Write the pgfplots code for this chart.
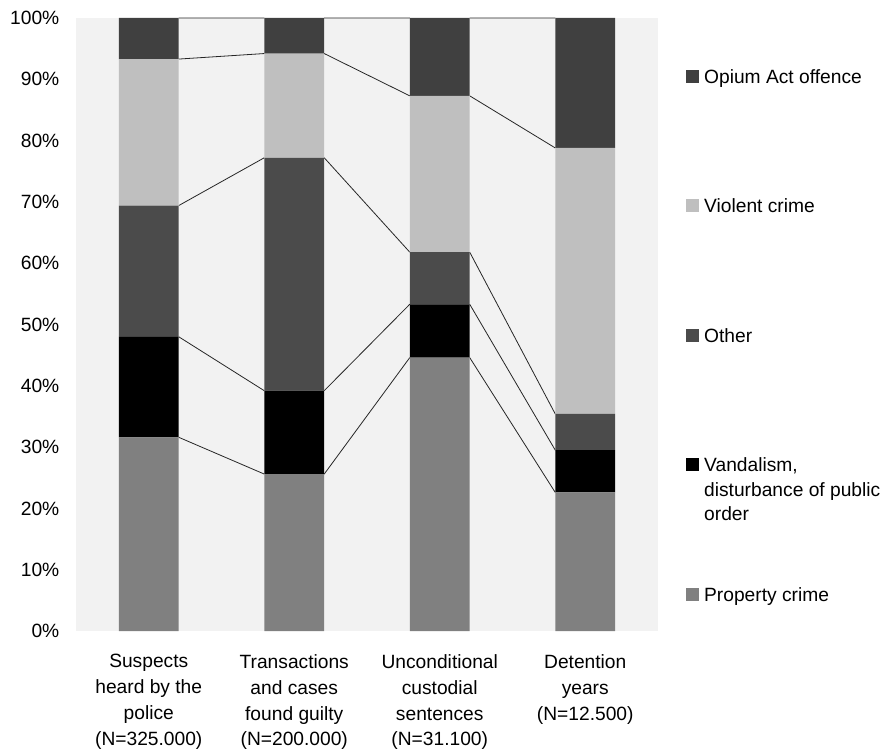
\documentclass[border=0pt]{standalone}
\usepackage{fontspec}
\setmainfont{Liberation Sans}
\usepackage{pgfplots}
\pgfplotsset{compat=1.18}

\definecolor{plotbg}{HTML}{F2F2F2}
\definecolor{cProperty}{HTML}{808080}
\definecolor{cVandal}{HTML}{000000}
\definecolor{cOther}{HTML}{4B4B4B}
\definecolor{cViolent}{HTML}{BFBFBF}
\definecolor{cOpium}{HTML}{404040}

\begin{document}
\begin{tikzpicture}
\useasboundingbox (-76pt,-119pt) rectangle (810pt,631pt);
\begin{axis}[
  at={(0pt,0pt)}, anchor=south west,
  scale only axis, width=582pt, height=613pt,
  xmin=-0.5, xmax=3.5, ymin=0, ymax=100,
  enlargelimits=false, clip=false,
  ybar stacked, bar width=0.412,
  axis background/.style={fill=plotbg},
  axis line style={draw=none},
  major tick length=0pt,
  font=\fontsize{19.2}{25.9}\selectfont,
  /pgf/number format/assume math mode=true,
  ytick={0,10,...,100},
  yticklabel={\pgfmathprintnumber{\tick}\%},
  y tick label style={xshift=-13.2pt},
  xtick={0,1,2,3},
  xticklabels={
    {Suspects\\heard by the\\police\\(N=325.000)},
    {Transactions\\and cases\\found guilty\\(N=200.000)},
    {Unconditional\\custodial\\sentences\\(N=31.100)},
    {Detention\\years\\(N=12.500)}},
  x tick label style={align=center, yshift=-19.8pt},
  legend image code/.code={\fill[#1] (0pt,-6.5pt) rectangle (13pt,6.5pt);},
  reverse legend,
  legend cell align=left,
  legend style={draw=none, fill=none, inner sep=0pt,
    nodes={inner sep=0pt}, column sep=5pt, row sep=112.6pt,
    at={(rel axis cs:1.0481,0.9187)}, anchor=north west},
]
\addplot[fill=cProperty, draw=none] coordinates {(0,31.6) (1,25.6) (2,44.6) (3,22.6)};
\addlegendentry{\raisebox{0pt}[15.4pt][5pt]{Property crime}}
\addplot[fill=cVandal, draw=none] coordinates {(0,16.4) (1,13.6) (2,8.7) (3,6.9)};
\addlegendentry{\raisebox{0pt}[15.4pt][5pt]{\begin{tabular}[t]{@{}l@{}}Vandalism,\\[-1.4pt]disturbance of public\\[-1.4pt]order\end{tabular}}}
\addplot[fill=cOther, draw=none] coordinates {(0,21.4) (1,38.0) (2,8.5) (3,5.9)};
\addlegendentry{\raisebox{0pt}[15.4pt][5pt]{Other}}
\addplot[fill=cViolent, draw=none] coordinates {(0,23.9) (1,17.0) (2,25.5) (3,43.4)};
\addlegendentry{\raisebox{0pt}[15.4pt][5pt]{Violent crime}}
\addplot[fill=cOpium, draw=none] coordinates {(0,6.7) (1,5.8) (2,12.7) (3,21.2)};
\addlegendentry{\raisebox{0pt}[15.4pt][5pt]{Opium Act offence}}

% series lines joining the category boundaries of neighbouring bars
\addplot[sharp plot, stack plots=false, forget plot, mark=none,
  draw=black!85, line width=0.8pt, unbounded coords=jump] coordinates {
  (0.206,31.6) (0.794,25.6) (1,nan) (1.206,25.6) (1.794,44.6) (2,nan) (2.206,44.6) (2.794,22.6) (3,nan)
  (0.206,48.0) (0.794,39.2) (1,nan) (1.206,39.2) (1.794,53.3) (2,nan) (2.206,53.3) (2.794,29.5) (3,nan)
  (0.206,69.4) (0.794,77.2) (1,nan) (1.206,77.2) (1.794,61.8) (2,nan) (2.206,61.8) (2.794,35.4) (3,nan)
  (0.206,93.3) (0.794,94.2) (1,nan) (1.206,94.2) (1.794,87.3) (2,nan) (2.206,87.3) (2.794,78.8) (3,nan)
  (0.206,100) (0.794,100) (1,nan) (1.206,100) (1.794,100) (2,nan) (2.206,100) (2.794,100)
};
\end{axis}
\end{tikzpicture}
\end{document}
